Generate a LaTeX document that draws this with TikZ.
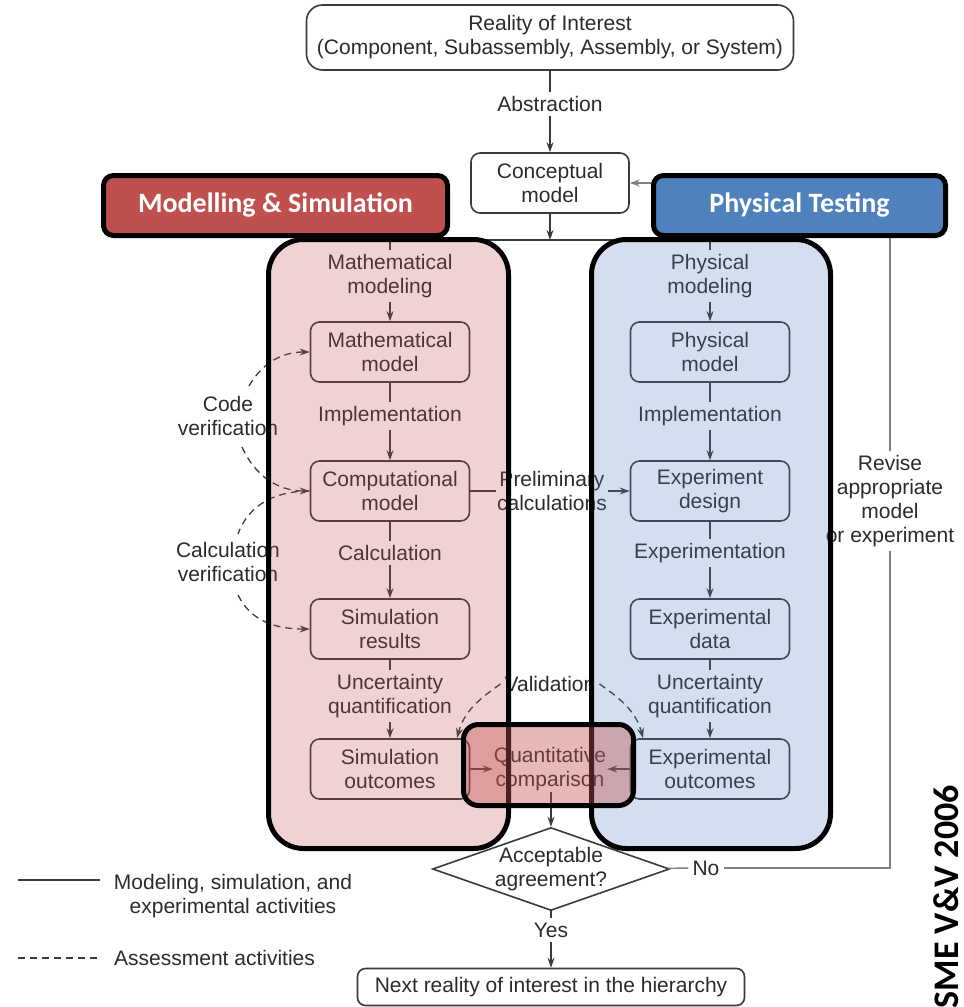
\documentclass[tikz,border=0pt]{standalone}
\usepackage{fontspec}
\setmainfont{Liberation Sans}
\newfontfamily\hdfont{Carlito}
\usetikzlibrary{arrows.meta,shapes.geometric}
\definecolor{ink}{HTML}{2B2B2B}
\definecolor{wire}{HTML}{3A3A3A}
\definecolor{loopc}{HTML}{808080}
\definecolor{msred}{HTML}{C0504D}
\definecolor{ptblue}{HTML}{4F81BD}
\begin{document}
\begin{tikzpicture}[x=1pt,y=1pt,
  every node/.style={font=\fontsize{21}{24}\selectfont, text=ink},
  stage/.style={draw=wire, line width=1.6pt, rounded corners=9pt, minimum width=159pt,
    minimum height=60pt, align=center, inner sep=0pt},
  act/.style={align=center, inner sep=4pt},
  wireline/.style={draw=wire, line width=1.4pt},
  flow/.style={wireline, -{Stealth[length=10pt,width=7pt]}},
  loopline/.style={draw=loopc, line width=1.4pt},
  loopflow/.style={loopline, -{Stealth[length=10pt,width=7pt]}},
  assess/.style={draw=wire, line width=1.3pt, dash pattern=on 7pt off 5pt},
  check/.style={assess, -{Stealth[length=10pt,width=7pt]}},
  header/.style={draw=black, line width=5pt, rounded corners=10pt, minimum height=60pt,
    text=white, font=\hdfont\bfseries\fontsize{28}{32}\selectfont},
  lane/.style={draw=black, line width=5pt, rounded corners=35pt, fill opacity=0.25},
]
\useasboundingbox (0,0) rectangle (964,-1007);

% ---- top of the hierarchy ----
\node[stage, minimum width=487pt, minimum height=65pt, rounded corners=16pt] (roi) at (550,-37.5)
  {Reality of Interest\\(Component, Subassembly, Assembly, or System)};
\node[act] (abs) at (550,-104) {Abstraction};
\node[stage, minimum width=158pt] (cm) at (550,-183) {Conceptual\\model};
\coordinate (split) at (550,-240);

% ---- modelling and simulation branch ----
\node[act] (mmg) at (390,-276) {Mathematical\\modeling};
\node[stage] (mm) at (390,-352) {Mathematical\\model};
\node[act] (impl1) at (390,-416) {Implementation};
\node[stage] (comp) at (390,-491) {Computational\\model};
\node[act] (calc) at (390,-553) {Calculation};
\node[stage] (sres) at (390,-629) {Simulation\\results};
\node[act] (uq1) at (390,-696) {Uncertainty\\quantification};
\node[stage] (sout) at (390,-769) {Simulation\\outcomes};

% ---- physical testing branch ----
\node[act] (pmg) at (710,-276) {Physical\\modeling};
\node[stage] (pm) at (710,-352) {Physical\\model};
\node[act] (impl2) at (710,-416) {Implementation};
\node[stage] (edes) at (710,-491) {Experiment\\design};
\node[act] (expn) at (710,-553) {Experimentation};
\node[stage] (edata) at (710,-629) {Experimental\\data};
\node[act] (uq2) at (710,-696) {Uncertainty\\quantification};
\node[stage] (eout) at (710,-769) {Experimental\\outcomes};

% ---- comparison and decision ----
\node[align=center, inner sep=1pt] (qc) at (550,-769) {Quantitative\\comparison};
\node[align=center, inner sep=1pt] (prelim) at (552,-491) {Preliminary\\calculations};
\node[act] (val) at (550,-684) {Validation};
\node[act] (codev) at (228,-416) {Code\\verification};
\node[act] (calcv) at (228,-562) {Calculation\\verification};
\node[diamond, draw=wire, line width=1.6pt, aspect=2.85, inner sep=0pt,
  minimum width=237pt, minimum height=83pt, align=center] (ok) at (551,-869) {Acceptable\\agreement?};
\node[act] (no) at (706,-868) {No};
\node[act] (yes) at (551,-930) {Yes};
\node[stage, minimum width=387pt, minimum height=37pt, rounded corners=8pt] (next) at (551,-987)
  {Next reality of interest in the hierarchy};
\node[act] (rev) at (890,-501) {Revise\\appropriate\\model\\or experiment};

% ---- solid flow ----
\draw[wireline] (roi) -- (abs);
\draw[flow] (abs) -- (cm);
\draw[flow] (cm) -- (split);
\draw[wireline] (mmg) |- (split) -| (pmg);
\draw[flow] (mmg) -- (mm);
\draw[wireline] (mm) -- (impl1);
\draw[flow] (impl1) -- (comp);
\draw[wireline] (comp) -- (calc);
\draw[flow] (calc) -- (sres);
\draw[wireline] (sres) -- (uq1);
\draw[flow] (uq1) -- (sout);
\draw[flow] (pmg) -- (pm);
\draw[wireline] (pm) -- (impl2);
\draw[flow] (impl2) -- (edes);
\draw[wireline] (edes) -- (expn);
\draw[flow] (expn) -- (edata);
\draw[wireline] (edata) -- (uq2);
\draw[flow] (uq2) -- (eout);
\draw[wireline] (comp) -- (prelim);
\draw[flow] (prelim) -- (edes);
\draw[flow] (sout) -- (qc);
\draw[flow] (eout) -- (qc);
\draw[flow] (qc.south -| ok.north) -- (ok.north);
\draw[wireline] (ok) -- (yes);
\draw[flow] (yes) -- (next);
\draw[loopline] (ok) -- (no);
\draw[loopline] (no) -| (rev);
\draw[loopflow] (rev) |- (cm);

% ---- dashed assessment arcs ----
\coordinate (cvA) at (249,-386);
\coordinate (cvB) at (242,-447);
\coordinate (clA) at (238,-534);
\coordinate (clB) at (238,-595);
\coordinate (vtL) at (457,-738);
\coordinate (vtR) at (643,-738);
\draw[check] (cvA) to[out=60,in=180] (mm.west);
\draw[check] (cvB) to[out=-66,in=180] (comp.west);
\draw[assess] (comp.west) to[out=180,in=70] (clA);
\draw[check] (clB) to[out=-64,in=180] (sres.west);
\draw[check] (val.west) to[out=215,in=75] (vtL);
\draw[check] (val.east) to[out=-35,in=105] (vtR);

% ---- legend ----
\coordinate (lgA) at (18,-880);
\coordinate (lgB) at (100,-880);
\coordinate (lgC) at (18,-958);
\coordinate (lgD) at (100,-958);
\draw[draw=wire, line width=1.2pt] (lgA) -- (lgB);
\draw[assess, line width=1.1pt] (lgC) -- (lgD);
\node[align=center] (lg1) at (233,-896) {Modeling, simulation, and\\experimental activities};
\node[anchor=west, inner sep=0pt] (lg2) at (114,-958) {Assessment activities};

% ---- translucent lanes ----
\draw[lane, fill=msred] (268.5,-239.5) rectangle (508.5,-848.5);
\draw[lane, fill=ptblue] (591.5,-239.5) rectangle (830.5,-848.5);
\draw[draw=black, line width=5pt, rounded corners=15pt, fill=msred, fill opacity=0.4]
  (463.5,-724.5) rectangle (633.5,-805.5);

% ---- lane headers ----
\node[header, fill=msred, minimum width=344pt] (mshead) at (275.5,-205.5)
  {\raisebox{-2pt}{Modelling \& Simulation}};
\node[header, fill=ptblue, minimum width=292pt] (pthead) at (799.5,-205.5)
  {\raisebox{-2pt}{Physical Testing}};

% ---- source line, running off the lower edge ----
\node[rotate=90, anchor=east, inner sep=0pt, text=black,
  font=\hdfont\bfseries\fontsize{36}{40}\selectfont] (src) at (946,-785) {ASME V\&V 2006};
\end{tikzpicture}
\end{document}
